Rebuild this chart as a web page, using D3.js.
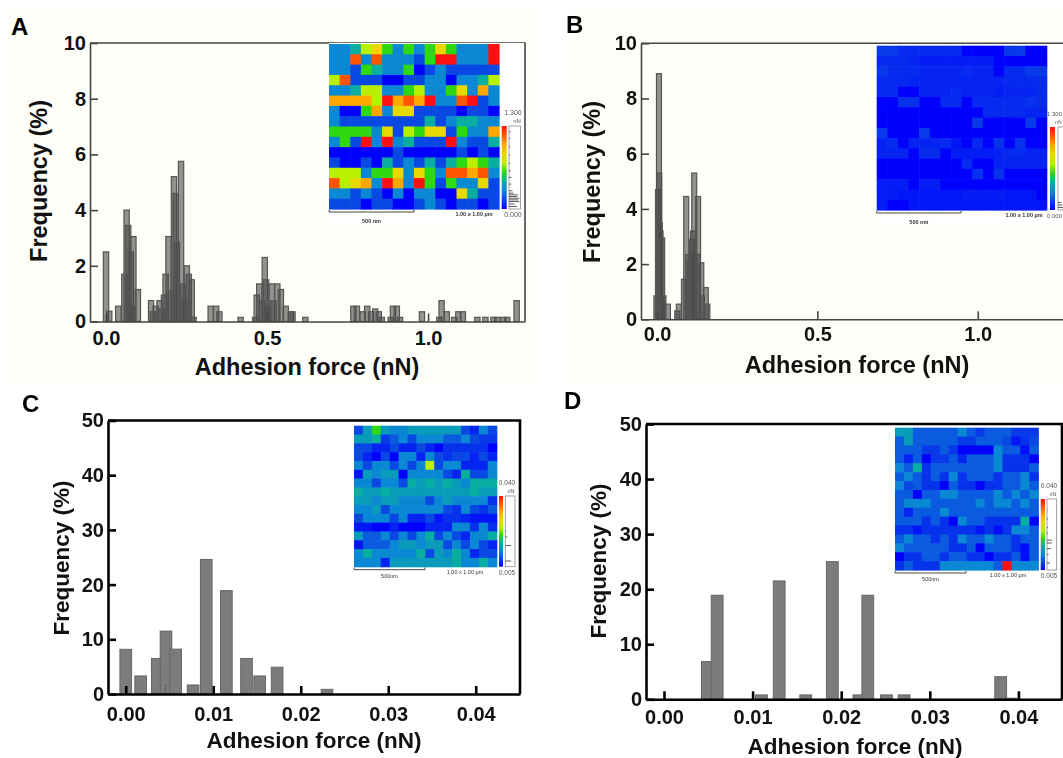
<!DOCTYPE html>
<html>
<head>
<meta charset="utf-8">
<script src="https://cdn.jsdelivr.net/npm/d3@7"></script>
<style>
  html, body { margin: 0; padding: 0; background: #fff; overflow: hidden; }
  svg { display: block; filter: blur(0.45px); font-family: "Liberation Sans", Arial, sans-serif; }
</style>
</head>
<body>
<div id="chart"></div>
<script>
const xTicksTop = [0, 0.5, 1];
const xTicksBottom = [0, 0.01, 0.02, 0.03, 0.04];
const yTicksTop = [0, 2, 4, 6, 8, 10];
const yTicksBottom = [0, 10, 20, 30, 40, 50];

// histogram bars (force in nN, frequency in %)
const forceA = [0, .010, .038, .057, .064, .069, .077, .085, .080, .099, .140, .145, .154, .166, .172, .180, .185, .194, .201, .211, .216, .220, .233, .238, .243, .251, .257, .266, .272, .325, .342, .352, .418, .463, .468, .476, .484, .493, .497, .502, .515, .520, .532, .543, .558, .574, .579, .619, .768, .779, .797, .811, .823, .836, .847, .856, .884, .891, .903, .913, .981, 1.035, 1.042, 1.058, 1.081, 1.094, 1.108, 1.153, 1.178, 1.203, 1.215, 1.234, 1.246, 1.275];
const freqA = [2.5, .37, .55, 1.7, 4.0, 3.45, 2.5, 3.05, .55, 1.15, .75, .35, .55, .75, .45, .95, 1.7, 3.05, 1.1, 5.2, 4.6, 2.85, 5.75, 1.35, .8, 2.0, 1.7, 1.5, .15, .55, .55, .35, .15, .15, .95, 1.35, .75, 2.3, 1.5, .55, 1.35, .75, 1.35, 1.15, .55, .35, .35, .15, .55, .55, .35, .55, .35, .45, .35, .15, .15, .55, .55, .15, .35, .15, .75, .35, .15, .35, .35, .15, .15, .15, .15, .15, .15, .75];
const forceB = [-.002, .003, .006, .007, .009, .011, .013, .016, .020, .034, .063, .068, .084, .091, .097, .102, .106, .109, .112, .116, .127, .128, .138, .140, .152, .157];
const freqB = [.85, 4.7, 8.9, 5.3, 3.5, 3.2, .55, 2.95, .85, .55, .3, .55, 1.45, 4.45, 2.35, 2.1, 2.35, 2.9, 3.2, 5.3, 2.35, 4.45, 2.05, .85, 1.15, .55];
const forceC = [0, .0017, .0036, .0046, .0052, .0057, .0077, .0092, .0115, .0138, .0153, .0173, .0230];
const freqC = [8.17, 3.3, 6.5, 11.5, 1.65, 8.2, 1.65, 24.6, 18.9, 6.5, 3.3, 4.9, .85];
const forceD = [.0049, .0060, .0110, .0130, .0160, .0190, .0220, .0230, .0251, .0271, .0380, .0391];
const freqD = [6.85, 18.9, .8, 21.5, .8, 25, .8, 18.9, .8, .8, 4.1, .2];

// force maps, one colour level per cell (0 blue .. 9 red)
const mapA = [
  [2,2,3,5,6,4,2,4,2,4,6,4,2,2,2,9],
  [2,2,8,2,8,2,2,2,1,4,9,9,2,2,2,9],
  [2,2,1,4,3,2,2,4,0,1,2,1,1,1,1,1],
  [5,8,1,1,1,0,0,1,1,2,2,0,2,2,3,5],
  [2,2,3,5,5,2,2,4,5,2,2,4,6,2,7,2],
  [7,7,7,7,5,9,7,8,7,9,2,2,8,9,1,2],
  [2,0,0,4,7,2,6,6,1,1,1,1,0,1,1,0],
  [2,1,1,1,1,1,1,1,1,3,1,2,3,3,2,2],
  [4,4,4,4,2,6,1,5,4,6,6,1,4,2,2,7],
  [2,4,1,9,2,9,2,3,1,1,1,9,2,1,1,3],
  [0,0,0,0,0,0,1,0,0,0,0,0,1,0,1,0],
  [1,0,0,1,0,3,1,2,1,3,1,3,4,5,4,3],
  [5,5,5,2,4,4,6,2,6,4,2,8,8,7,8,2],
  [8,5,6,7,2,9,7,2,9,4,1,4,2,2,6,1],
  [2,2,1,2,1,0,2,0,2,2,0,0,6,3,1,1],
  [1,1,1,0,1,1,0,0,1,2,1,0,1,1,0,1]
];
const mapB = [
  [.8,.8,.6,.6,.6,.6,.6,.6,0,0,0,0,.8,.8,0,0],
  [.6,.6,.6,.5,.4,.4,.4,.4,.4,.4,.4,0,0,0,0,0],
  [.8,.6,.6,.6,.5,.5,.5,.5,.6,.5,.5,0,.6,.6,.8,.8],
  [.6,.6,.6,.5,.5,.5,.5,.5,.5,.5,.5,.5,.6,.6,.6,.6],
  [.6,.6,0,0,.5,.5,.5,.6,.5,.5,.5,.4,.5,.5,.5,.6],
  [0,0,.7,.7,0,0,.6,.6,0,.6,.6,.6,.6,.6,.7,.6],
  [0,0,0,0,0,0,0,0,0,0,.6,.6,.6,.6,.5,.5],
  [0,0,0,0,0,0,0,0,0,.8,0,0,0,0,.8,0],
  [.8,0,0,0,.8,0,0,0,0,0,0,0,0,0,0,0],
  [.5,.6,0,.5,.5,.5,.6,.3,0,.6,0,.7,0,.7,0,0],
  [.5,.5,.5,0,.6,.6,0,.4,.4,.4,.4,.5,.6,.6,.5,.5],
  [0,0,0,0,0,0,0,0,.6,0,0,.5,.5,.5,.5,.5],
  [0,0,0,0,0,0,0,0,0,.7,0,.7,0,0,0,0],
  [.4,.4,.4,0,.4,.4,0,0,0,0,0,0,0,0,0,0],
  [.4,.4,.3,.3,.3,.3,.3,.3,.4,.4,.4,.4,.3,.3,.3,0],
  [.4,0,0,.3,.3,.3,.3,.3,.3,.3,.3,.3,.3,.3,.3,.3]
];
const mapC = [
  [1,2.5,4,2.5,2,2,2.5,2.5,2.5,2.5,2.5,2.5,1,.5,2,1],
  [2.5,2.5,3,.8,1.3,2,1,2,2,2,1.3,1.3,2,1,.8,.8],
  [1,1,.5,.5,1,.5,.5,1,.5,0,.7,.7,.7,.7,.7,0],
  [1,.5,0,1,0,2,2,.5,2,1,.7,1,1,.5,1,.5],
  [2,1,2,2,1,2,1,2,5,1,2,2,.5,.5,.5,2],
  [.3,2.5,2,2.5,2.5,0,2,2,2,2,1,.5,3,1,1,2],
  [2,2,1,2,2,1,3,2.5,3,2.5,3,2.5,2,3,3,3],
  [3,2.5,2.5,3,2.5,2.5,2.5,2.5,2.5,2.5,2.5,2.5,2.5,3,2.5,2.5],
  [2.5,2.5,2,2.5,2.5,2,2,2,1,2,2.5,2,2,2,2,.7],
  [2,2,2.5,1,2,2,2,2,2,2,1,.7,2,1,.7,1.3],
  [1,2,2,2,1,2,.5,.5,1,.3,.7,.7,.5,.3,.3,.3],
  [.3,.3,0,0,.5,0,0,0,.5,.5,.5,2,2,.7,2,.7],
  [2.5,1.3,1.3,2,1,2,1,2,3,1,2,1,.5,2,2,3],
  [.3,1.3,1.3,1.3,2,2.5,2.5,2,2.5,2.5,1,2,1,2,1,.5],
  [2,3,2,2,2,2,2,3,1,2.5,2,3,2,.5,1,1],
  [2,2,2,.5,2.5,2.5,2.5,2.5,2.5,2.5,2.5,3,2,2,3,2]
];
const mapD = [
  [2.5,2.5,1.3,1.3,1.3,1.3,1.3,2,1.3,.8,1.3,1.3,1.3,.8,.8,.8],
  [1.3,2.5,1.3,1.3,1.3,1.3,1.3,.8,.8,1.3,1.3,1.3,1,.3,.7,1],
  [1.3,1.3,1.3,.8,.8,1.3,.8,0,0,0,0,2,1.3,1.3,.2,1.3],
  [1.3,.5,1.3,0,.8,.8,1.3,.5,1.3,1.3,1.3,2,.7,.7,.7,0],
  [2,1.3,3,.7,1.3,1.3,1.3,1.3,1.3,1.3,1.3,2,.7,.7,.7,1.3],
  [1.3,2,1.3,.7,1.3,.7,2,.7,1.3,1.3,1.3,.7,1.3,1.3,2,.7],
  [2,1,1.3,.7,.7,0,1.3,.7,.7,0,.7,.7,1.3,1.3,2,1.3],
  [1.3,1.3,0,1.3,1.3,2,2,1.3,1.3,1.3,1.3,2,1.3,2,1.3,2],
  [1.3,2,2,2,1.3,1.3,1.3,1.3,1.3,2,1.3,2,2,1.3,2,1.3],
  [1.3,.5,1.3,1.3,1.3,2,1.3,1.3,1.3,1.3,1.3,1.3,1.3,1.3,1.3,1.3],
  [1.3,1.3,1.3,.7,1.3,.7,0,2,1.3,1.3,.7,.7,.7,.7,3,0],
  [.7,.7,.3,.7,.7,.7,.7,.7,.7,.3,.7,.2,.7,2,2,1.3],
  [1.3,2,1.3,1.3,.7,1.3,.7,2,1.3,1.3,2,1.3,1.3,.7,1.3,1.3],
  [2,1.3,1.3,1.3,1.3,1.3,.7,.7,1.3,0,1.3,1.3,1.3,.7,.2,1.3],
  [0,.7,.7,1.3,1.3,.7,1.3,1.3,.7,.7,0,.7,.7,1.3,.2,1.3],
  [.7,1.3,.7,.7,.7,2,2,2,2,2,2,1.3,9,2,2,2]
];

// little histograms beside the colour bars (position up the bar, bar length)
const sideA = [[.03,.7],[.06,.5],[.09,.9],[.11,.8],[.13,.9],[.15,.7],[.17,.8],[.19,.4],[.22,.3],[.3,.2],[.38,.2],[.46,.15],[.55,.1],[.65,.1],[.75,.1],[.85,.1],[.93,.15]];
const sideB = [[.03,.8],[.06,.4],[.09,.3]];
const sideC = [[.08,.6],[.3,.6],[.42,.2],[.5,.1]];
const sideD = [[.1,.3],[.22,.15],[.3,.4],[.38,.5],[.42,.5],[.52,.1],[.6,.1],[.72,.1],[.85,.05]];

const levelColors = ['#0000ff', '#0a48e4', '#0a88d4', '#08aea0', '#2ed812', '#b8f000', '#e6d800', '#ffa800', '#ff5500', '#ff1010'];
const levelScale = d3.scaleLinear().domain(d3.range(10)).range(levelColors);

const width = 1063;
const height = 758;

const svg = d3.select('#chart')
  .append('svg')
  .attr('width', width)
  .attr('height', height);

svg.append('rect').attr('x', 8).attr('y', 12).attr('width', 527).attr('height', 373).attr('fill', '#fffffa');
svg.append('rect').attr('x', 570).attr('y', 12).attr('width', 493).attr('height', 370).attr('fill', '#fffffa');

const grad = svg.append('defs').append('linearGradient')
  .attr('id', 'bar').attr('x1', 0).attr('x2', 0).attr('y1', 1).attr('y2', 0);
levelColors.forEach(function(c, i) {
  grad.append('stop').attr('offset', (i / 9 * 100) + '%').attr('stop-color', c);
});

function drawPanel(p) {
  const g = svg.append('g');
  const x = d3.scaleLinear().domain(p.xDomain).range(p.xRange);
  const y = d3.scaleLinear().domain(p.yDomain).range(p.yRange);
  const barWidth = x(p.binWidth) - x(0);

  g.selectAll('.bar')
    .data(p.force)
    .enter()
    .append('rect')
    .attr('x', function(d) { return x(d) - barWidth / 2; })
    .attr('y', function(d, i) { return y(p.freq[i]); })
    .attr('width', barWidth)
    .attr('height', function(d, i) { return y(0) - y(p.freq[i]); })
    .attr('fill', p.barFill)
    .attr('fill-opacity', p.barOpacity)
    .attr('stroke', p.barStroke)
    .attr('stroke-width', p.barLine);

  // box on top and right
  g.append('path')
    .attr('d', 'M' + p.xRange[0] + ',' + p.yRange[1] + 'H' + p.xRange[1] + 'V' + p.yRange[0])
    .attr('fill', 'none')
    .attr('stroke', p.axisColor)
    .attr('stroke-width', p.axisWidth);

  const xAxis = g.append('g')
    .attr('transform', 'translate(0,' + p.yRange[0] + ')')
    .call(d3.axisBottom(x).tickValues(p.xTicks).tickFormat(d3.format(p.xFormat)).tickSizeInner(-8).tickSizeOuter(0).tickPadding(p.xPad));
  const yAxis = g.append('g')
    .attr('transform', 'translate(' + p.xRange[0] + ',0)')
    .call(d3.axisLeft(y).tickValues(p.yTicks).tickSizeInner(-8).tickSizeOuter(0).tickPadding(4));

  [xAxis, yAxis].forEach(function(a) {
    a.selectAll('path, line').attr('stroke', p.axisColor).attr('stroke-width', p.axisWidth);
    a.selectAll('text')
      .attr('fill', '#111')
      .style('font-size', p.tickSize + 'px')
      .style('font-weight', 'bold')
      .style('font-family', '"Liberation Sans", Arial, sans-serif');
  });

  g.append('text')
    .attr('x', p.xLabel[0]).attr('y', p.xLabel[1])
    .attr('text-anchor', 'middle')
    .attr('fill', '#111')
    .style('font-size', p.labelSize + 'px').style('font-weight', 'bold')
    .text('Adhesion force (nN)');

  g.append('text')
    .attr('transform', 'translate(' + p.yLabel[0] + ',' + p.yLabel[1] + ') rotate(-90)')
    .attr('text-anchor', 'middle')
    .attr('fill', '#111')
    .style('font-size', p.labelSize + 'px').style('font-weight', 'bold')
    .text('Frequency (%)');

  g.append('text')
    .attr('x', p.tag[0]).attr('y', p.tag[1])
    .attr('fill', '#000')
    .style('font-size', '24px').style('font-weight', 'bold')
    .text(p.name);

  drawInset(g, p.inset);
}

function drawInset(g, m) {
  const cols = d3.range(16);
  const cx = d3.scaleBand().domain(cols).range([m.x0, m.x1]);
  const cy = d3.scaleBand().domain(cols).range([m.y0, m.y1]);

  g.append('rect')
    .attr('x', m.x0).attr('y', m.y0 - 1)
    .attr('width', Math.min(m.boxRight, width) - m.x0)
    .attr('height', m.y1 - m.y0 + 17)
    .attr('fill', '#fff');

  const rows = g.append('g').style('filter', 'blur(0.7px)')
    .selectAll('.row').data(m.cells).enter().append('g');
  rows.selectAll('rect')
    .data(function(d, i) { return d.map(function(v, j) { return {v: v, i: i, j: j}; }); })
    .enter()
    .append('rect')
    .attr('x', function(d) { return cx(d.j); })
    .attr('y', function(d) { return cy(d.i); })
    .attr('width', cx.bandwidth() + 0.6)
    .attr('height', cy.bandwidth() + 0.6)
    .attr('fill', function(d) { return levelScale(d.v); });

  g.append('rect')
    .attr('x', m.barX).attr('y', m.barY0)
    .attr('width', m.barW).attr('height', m.y1 - m.barY0)
    .attr('fill', 'url(#bar)');

  // side histogram
  const sy = d3.scaleLinear().domain([0, 1]).range([m.y1, m.barY0]);
  const sx = d3.scaleLinear().domain([0, 1]).range([m.sideX, m.sideX + m.sideW]);
  g.append('rect')
    .attr('x', m.sideX).attr('y', m.barY0)
    .attr('width', m.sideW).attr('height', m.y1 - m.barY0)
    .attr('fill', '#fff').attr('stroke', '#888').attr('stroke-width', 0.8);
  g.selectAll('.side')
    .data(m.side)
    .enter()
    .append('line')
    .attr('x1', sx(0)).attr('x2', function(d) { return sx(d[1]); })
    .attr('y1', function(d) { return sy(d[0]); }).attr('y2', function(d) { return sy(d[0]); })
    .attr('stroke', '#333').attr('stroke-width', 0.8);

  const small = function(t, tx, ty, size, col, weight) {
    g.append('text').attr('x', tx).attr('y', ty)
      .attr('text-anchor', 'middle')
      .attr('fill', col || '#555')
      .style('font-size', size + 'px')
      .style('font-weight', weight || 'normal')
      .text(t);
  };
  small(m.maxLabel, m.labelX, m.barY0 - 11, m.labelSize);
  small('nN', m.labelX + 4, m.barY0 - 3, m.labelSize - 1);
  small(m.minLabel, m.labelX, m.y1 + 8, m.labelSize);

  // scale bar
  g.append('path')
    .attr('d', 'M' + m.x0 + ',' + (m.y1 + 1) + 'v2H' + m.scaleEnd + 'v-2')
    .attr('fill', 'none').attr('stroke', '#333').attr('stroke-width', 0.9);
  small(m.scaleText, (m.x0 + m.scaleEnd) / 2, m.y1 + m.scaleDy, 5.5, '#333', m.textWeight);
  small('1.00 x 1.00 µm', m.sizeX, m.y1 + 7, 5.5, '#333', m.textWeight);
}

const panels = [
  {
    name: 'A', tag: [11, 35],
    force: forceA, freq: freqA, binWidth: 0.0165,
    xDomain: [-0.0497, 1.301], xRange: [90, 525], yDomain: [0, 10], yRange: [321.5, 43],
    xTicks: xTicksTop, yTicks: yTicksTop, xFormat: '.1f', xPad: 9,
    barFill: '#4a4a48', barOpacity: 0.6, barStroke: '#555', barLine: 1.2, axisColor: '#444', axisWidth: 1.6,
    tickSize: 20, labelSize: 23.5, xLabel: [307, 375], yLabel: [47, 181],
    inset: {
      cells: mapA, x0: 329, x1: 499, y0: 44, y1: 209, boxRight: 524,
      barX: 501.7, barW: 5, barY0: 126, sideX: 509, sideW: 11.5, side: sideA,
      maxLabel: '1.300', minLabel: '0.000', labelX: 513, labelSize: 7,
      scaleEnd: 414, scaleText: '500 nm', scaleDy: 14, sizeX: 474, textWeight: 'bold'
    }
  },
  {
    name: 'B', tag: [566, 33],
    force: forceB, freq: freqB, binWidth: 0.0155,
    xDomain: [-0.05, 1.35], xRange: [641, 1090], yDomain: [0, 10], yRange: [319.3, 43.3],
    xTicks: xTicksTop, yTicks: yTicksTop, xFormat: '.1f', xPad: 8,
    barFill: '#4a4a48', barOpacity: 0.6, barStroke: '#555', barLine: 1.2, axisColor: '#444', axisWidth: 1.6,
    tickSize: 20, labelSize: 23.5, xLabel: [857, 373], yLabel: [600, 182],
    inset: {
      cells: mapB, x0: 876.7, x1: 1046.7, y0: 45.7, y1: 210, boxRight: 1063,
      barX: 1050, barW: 5, barY0: 127, sideX: 1058, sideW: 11, side: sideB,
      maxLabel: '1.300', minLabel: '0.000', labelX: 1054.5, labelSize: 6,
      scaleEnd: 961, scaleText: '500 nm', scaleDy: 14, sizeX: 1024, textWeight: 'bold'
    }
  },
  {
    name: 'C', tag: [22, 412],
    force: forceC, freq: freqC, binWidth: 0.00133,
    xDomain: [-0.00203, 0.04506], xRange: [108, 520], yDomain: [0, 50], yRange: [694, 420.5],
    xTicks: xTicksBottom, yTicks: yTicksBottom, xFormat: '.2f', xPad: 13,
    barFill: '#7c7c7c', barOpacity: 1, barStroke: '#666', barLine: 1, axisColor: '#000', axisWidth: 2.6,
    tickSize: 20, labelSize: 22.5, xLabel: [314, 748], yLabel: [69, 558],
    inset: {
      cells: mapC, x0: 354, x1: 496.7, y0: 425.7, y1: 566.7, boxRight: 517,
      barX: 499, barW: 4, barY0: 496, sideX: 505.3, sideW: 9.7, side: sideC,
      maxLabel: '0.040', minLabel: '0.005', labelX: 507, labelSize: 6.5,
      scaleEnd: 425, scaleText: '500nm', scaleDy: 11, sizeX: 465
    }
  },
  {
    name: 'D', tag: [564, 409],
    force: forceD, freq: freqD, binWidth: 0.00133,
    xDomain: [-0.00203, 0.04492], xRange: [646, 1062], yDomain: [0, 50], yRange: [699.3, 424],
    xTicks: xTicksBottom, yTicks: yTicksBottom, xFormat: '.2f', xPad: 11,
    barFill: '#7c7c7c', barOpacity: 1, barStroke: '#666', barLine: 1, axisColor: '#000', axisWidth: 2.6,
    tickSize: 20, labelSize: 22.5, xLabel: [855, 754], yLabel: [606, 561],
    inset: {
      cells: mapD, x0: 895, x1: 1038.3, y0: 427.7, y1: 570, boxRight: 1059,
      barX: 1040.7, barW: 4.3, barY0: 499, sideX: 1047, sideW: 9.7, side: sideD,
      maxLabel: '0.040', minLabel: '0.005', labelX: 1049, labelSize: 6.5,
      scaleEnd: 966, scaleText: '500nm', scaleDy: 11, sizeX: 1008
    }
  }
];

panels.forEach(drawPanel);
</script>
</body>
</html>
